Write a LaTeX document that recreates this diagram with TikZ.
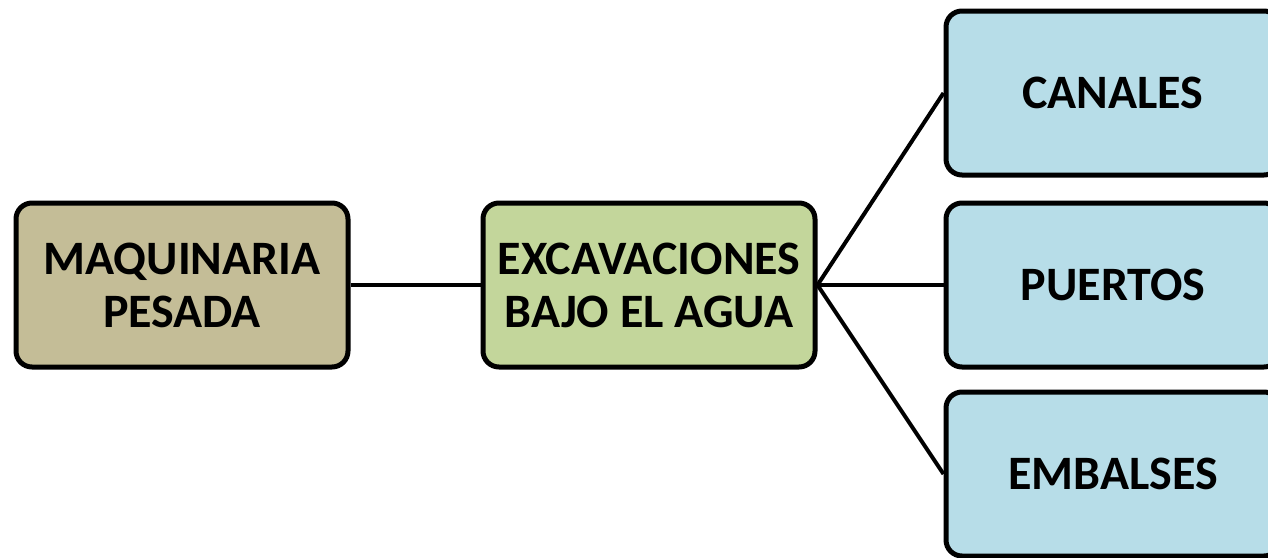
\documentclass[tikz,border=0pt]{standalone}
\usepackage{fontspec}
\setmainfont{Carlito}
\definecolor{tanfill}{HTML}{C4BD97}
\definecolor{greenfill}{HTML}{C3D69B}
\definecolor{bluefill}{HTML}{B7DDE8}
\begin{document}
\begin{tikzpicture}[x=1pt,y=-1pt,
  boxstyle/.style={draw=black, line width=5pt, rounded corners=16pt,
    minimum width=332pt, minimum height=164pt, inner sep=0pt,
    align=center, font=\fontsize{48}{53}\selectfont\bfseries},
  link/.style={line width=4pt}]
\useasboundingbox (0,0) rectangle (1268,557);
\clip (0,0) rectangle (1268,557);
\node[boxstyle, fill=tanfill] (maq) at (182,285) {MAQUINARIA\\PESADA};
\node[boxstyle, fill=greenfill] (exc) at (649,285) {EXCAVACIONES\\BAJO EL AGUA};
\node[boxstyle, fill=bluefill, minimum width=334pt] (can) at (1113,93) {CANALES};
\node[boxstyle, fill=bluefill, minimum width=334pt] (pue) at (1113,285) {PUERTOS};
\node[boxstyle, fill=bluefill, minimum width=334pt] (emb) at (1113,474) {EMBALSES};
\draw[link] (maq.east) -- (exc.west);
\draw[link] (exc.east) -- (can.west);
\draw[link] (exc.east) -- (pue.west);
\draw[link] (exc.east) -- (emb.west);
\end{tikzpicture}
\end{document}
